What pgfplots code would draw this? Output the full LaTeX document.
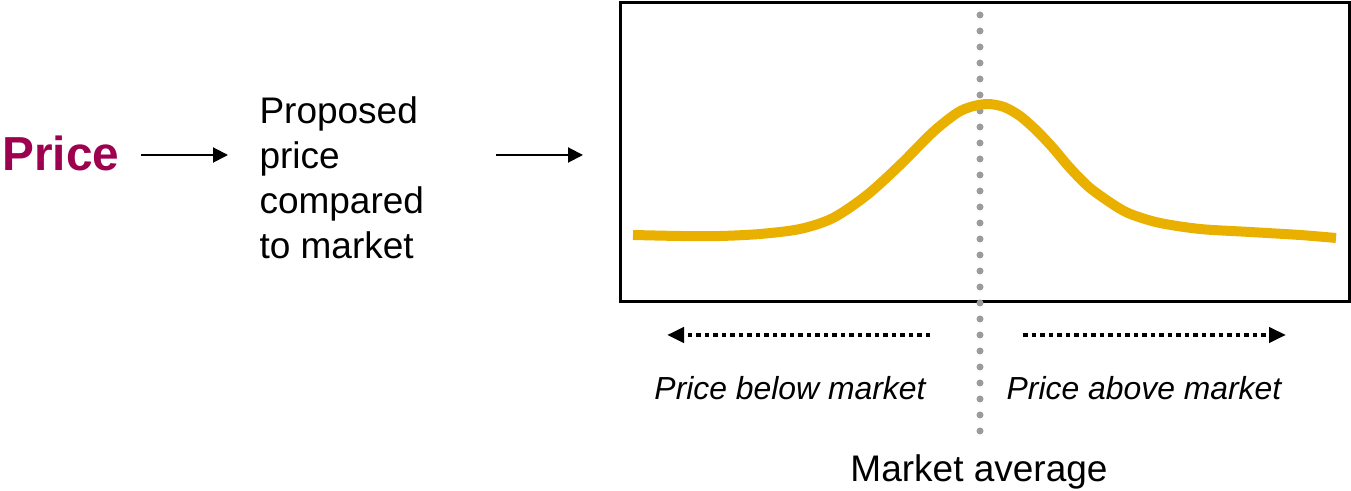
\documentclass[border=0pt]{standalone}
\usepackage{pgfplots}
\pgfplotsset{compat=1.18}
\usepackage{fontspec}
\setmainfont{Liberation Sans}
\usetikzlibrary{arrows.meta}
\definecolor{curvegold}{HTML}{EAB000}
\definecolor{pricered}{HTML}{9E0050}
\definecolor{dotgray}{HTML}{9B9B9B}

\begin{document}
\begin{tikzpicture}[x=0.4pt,y=0.4pt]
  \useasboundingbox (0,0) rectangle (1351,491);

  % left-hand flow: Price -> proposed price -> chart
  \node[anchor=base west,inner sep=0,text=pricered,font=\fontsize{19.1}{22}\selectfont\bfseries] at (2,320) {Price};
  \draw[line width=0.8pt,-{Triangle[length=6pt,width=6pt]}] (141,336) -- (228,336);
  \begin{scope}[every node/.style={anchor=base west,inner sep=0,font=\fontsize{14.8}{18}\selectfont}]
    \node at (259,367) {Proposed};
    \node at (259,322) {price};
    \node at (259,277) {compared};
    \node at (259,232) {to market};
  \end{scope}
  \draw[line width=0.8pt,-{Triangle[length=6pt,width=6pt]}] (496,336) -- (583,336);

  \begin{axis}[
    x=0.4pt, y=0.4pt,
    at={(620,189)}, anchor=south west,
    xmin=620, xmax=1349, ymin=189, ymax=488,
    xtick=\empty, ytick=\empty,
    axis line style={line width=1.2pt},
    clip=false,
  ]
    % market average marker
    \addplot[dotgray, line width=2.8pt, line cap=round,
             dash pattern=on 0pt off 6.4pt]
      coordinates {(980,476) (980,56)};
    % price response curve
    \addplot[curvegold, line width=4pt, smooth]
      coordinates {
        (633,256) (680,255) (720,255) (760,257) (800,262) (833,273)
        (867,296) (900,326) (933,359) (957,378) (972,384.5) (988,387)
        (1004,384) (1020,375) (1037,360) (1053,343) (1070,323) (1090,303)
        (1117,284) (1133,276) (1160,268) (1200,262) (1250,259)
        (1300,256) (1336,253)
      };
  \end{axis}

  % direction arrows below the chart
  \draw[line width=1.9pt, dash pattern=on 1.8pt off 1.6pt,
        -{Triangle[length=6.8pt,width=6pt]}] (930,156) -- (667,156);
  \draw[line width=1.9pt, dash pattern=on 1.8pt off 1.6pt,
        -{Triangle[length=6.8pt,width=6pt]}] (1023,156) -- (1286,156);

  \node[anchor=base,inner sep=0,font=\fontsize{12.75}{15}\selectfont\itshape] at (790,91) {Price below market};
  \node[anchor=base,inner sep=0,font=\fontsize{12.75}{15}\selectfont\itshape] at (1144,91) {Price above market};
  \node[anchor=base,inner sep=0,font=\fontsize{14.8}{18}\selectfont] at (979,9) {Market average};
\end{tikzpicture}
\end{document}
